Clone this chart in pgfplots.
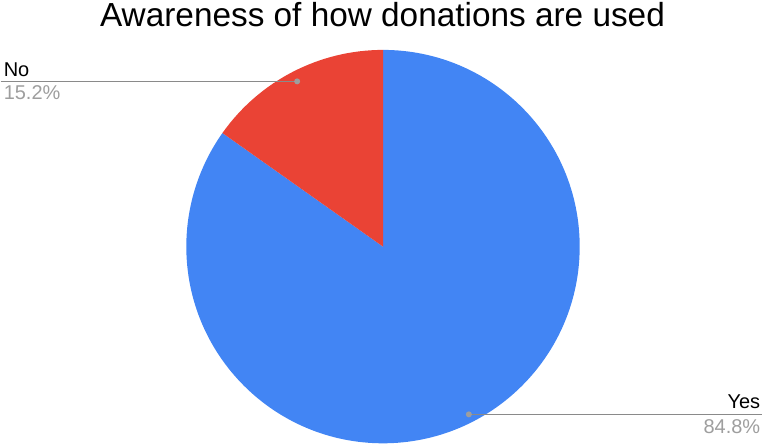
\documentclass[border=0pt]{standalone}
\usepackage{pgfplots}
\pgfplotsset{compat=1.18}
\usepackage{pgfplotstable}
\usepackage{fontspec}
\setmainfont{Liberation Sans}
\definecolor{cyes}{HTML}{4285F4}
\definecolor{cno}{HTML}{EA4335}
\definecolor{lbl}{HTML}{9E9E9E}
\definecolor{lline}{HTML}{8A8A8A}
\pgfplotstableread[col sep=comma]{
label,value
Yes,84.8
No,15.2
}\piedata
\begin{document}
\begin{tikzpicture}
\pgfplotstablegetelem{0}{value}\of\piedata \edef\vyes{\pgfplotsretval}
\pgfplotstablegetelem{1}{value}\of\piedata \edef\vno{\pgfplotsretval}
\pgfmathsetmacro\ayes{90-3.6*\vyes}
\begin{axis}[x=1pt,y=1pt,xmin=0,xmax=763,ymin=0,ymax=444,hide axis,scale only axis,clip=false]
\path (axis cs:0,0) rectangle (axis cs:763,444);
\fill[cyes] (axis cs:383,197) -- ++(90:197pt) arc[start angle=90,end angle=\ayes,radius=197pt] -- cycle;
\fill[cno] (axis cs:383,197) -- ++(\ayes:197pt) arc[start angle=\ayes,end angle=-270,radius=197pt] -- cycle;
\node[anchor=base, inner sep=0pt, font=\fontsize{33.4}{40}\selectfont] at (axis cs:382.5,417) {Awareness of how donations are used};
\draw[lline, line width=1.2pt] (axis cs:0,362.5) -- (axis cs:297,362.5);
\fill[lbl] (axis cs:297,362.5) circle (3pt);
\node[anchor=base west, inner sep=0pt, font=\fontsize{20}{24}\selectfont] at (axis cs:3,367.5) {No};
\node[anchor=base west, inner sep=0pt, text=lbl, font=\fontsize{20}{24}\selectfont] at (axis cs:3,344) {\vno\%};
\draw[lline, line width=1.2pt] (axis cs:469,29) -- (axis cs:763,29);
\fill[lbl] (axis cs:469,29) circle (3pt);
\node[anchor=base east, inner sep=0pt, font=\fontsize{20}{24}\selectfont] at (axis cs:761,35) {Yes};
\node[anchor=base east, inner sep=0pt, text=lbl, font=\fontsize{20}{24}\selectfont] at (axis cs:761,10) {\vyes\%};
\end{axis}
\end{tikzpicture}
\end{document}
